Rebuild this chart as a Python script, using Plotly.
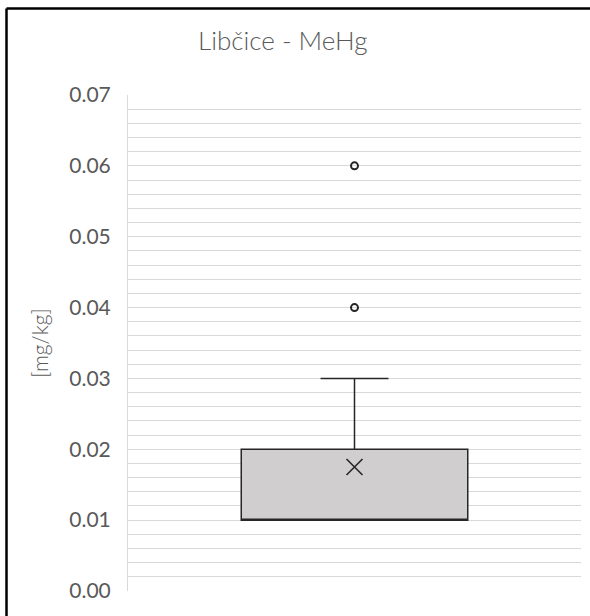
import plotly.graph_objects as go

# MeHg measurements at Libčice [mg/kg]
site = "Libčice"
mehg_values = [
    0.01, 0.01, 0.01, 0.01, 0.01, 0.01, 0.01, 0.01, 0.01, 0.01, 0.01,
    0.02, 0.02, 0.03, 0.04, 0.06,
]
mean_value = sum(mehg_values) / len(mehg_values)

y_ticks = [0.00, 0.01, 0.02, 0.03, 0.04, 0.05, 0.06, 0.07]

FONT = "Lato, 'Open Sans', sans-serif"
TEXT = "#595959"
GRID = "#D9D9D9"
DARK = "#262626"

# plot area in pixels (590x616 canvas)
L, R, T, B = 128, 9, 95, 25
W = 590 - L - R
H = 616 - T - B


def px_x(x):
    return (x - L) / W


def px_y(y):
    return 1 + (T - y) / H


fig = go.Figure()

fig.add_trace(
    go.Box(
        x=[site] * len(mehg_values),
        y=mehg_values,
        quartilemethod="exclusive",
        boxpoints="outliers",
        jitter=0,
        pointpos=0,
        width=0.5,
        whiskerwidth=0.3,
        fillcolor="#D0CECE",
        line=dict(color=DARK, width=1.5),
        marker=dict(symbol="circle-open", color=DARK, size=7,
                    line=dict(width=2, color=DARK)),
        hoverinfo="y",
        showlegend=False,
    )
)

# mean marker (Excel-style X)
fig.add_trace(
    go.Scatter(
        x=[site],
        y=[mean_value],
        mode="markers",
        marker=dict(symbol="x-thin-open", size=16, color=DARK,
                    line=dict(width=1.6, color=DARK)),
        hoverinfo="y",
        showlegend=False,
    )
)

fig.update_layout(
    width=590,
    height=616,
    margin=dict(l=L, r=R, t=T, b=B),
    paper_bgcolor="white",
    plot_bgcolor="white",
    font=dict(family=FONT, color=TEXT),
    annotations=[
        dict(
            text="Libčice - MeHg",
            x=px_x(282), y=px_y(40),
            xref="paper", yref="paper",
            xanchor="center", yanchor="middle",
            showarrow=False,
            font=dict(size=26, color=TEXT, family=FONT, weight=300),
        )
    ],
    shapes=[
        # chart border (top and left edges visible in the crop)
        dict(type="line", xref="paper", yref="paper",
             x0=px_x(6.5), x1=px_x(600), y0=px_y(8.5), y1=px_y(8.5),
             line=dict(color="black", width=2.5)),
        dict(type="line", xref="paper", yref="paper",
             x0=px_x(6.5), x1=px_x(6.5), y0=px_y(8.5), y1=px_y(630),
             line=dict(color="black", width=2.5)),
    ],
)

fig.update_xaxes(
    type="category",
    range=[-0.5, 0.5],
    showticklabels=False,
    showgrid=False,
    zeroline=False,
    showline=False,
)

fig.update_yaxes(
    range=[0, 0.07],
    tickvals=y_ticks,
    tickformat=".2f",
    tickfont=dict(size=21, color=TEXT, family=FONT),
    ticklabelstandoff=12,
    showgrid=True,
    gridcolor=GRID,
    gridwidth=1,
    minor=dict(dtick=0.002, showgrid=True, gridcolor=GRID, gridwidth=1),
    zeroline=False,
    showline=True,
    linecolor=GRID,
    linewidth=1,
    ticks="",
    title=dict(text="[mg/kg]", font=dict(size=21, color=TEXT, family=FONT, weight=300),
               standoff=14),
)

fig.write_html(
    "out.html",
    config={"displayModeBar": False},
    post_script="document.body.style.margin='0';",
)
